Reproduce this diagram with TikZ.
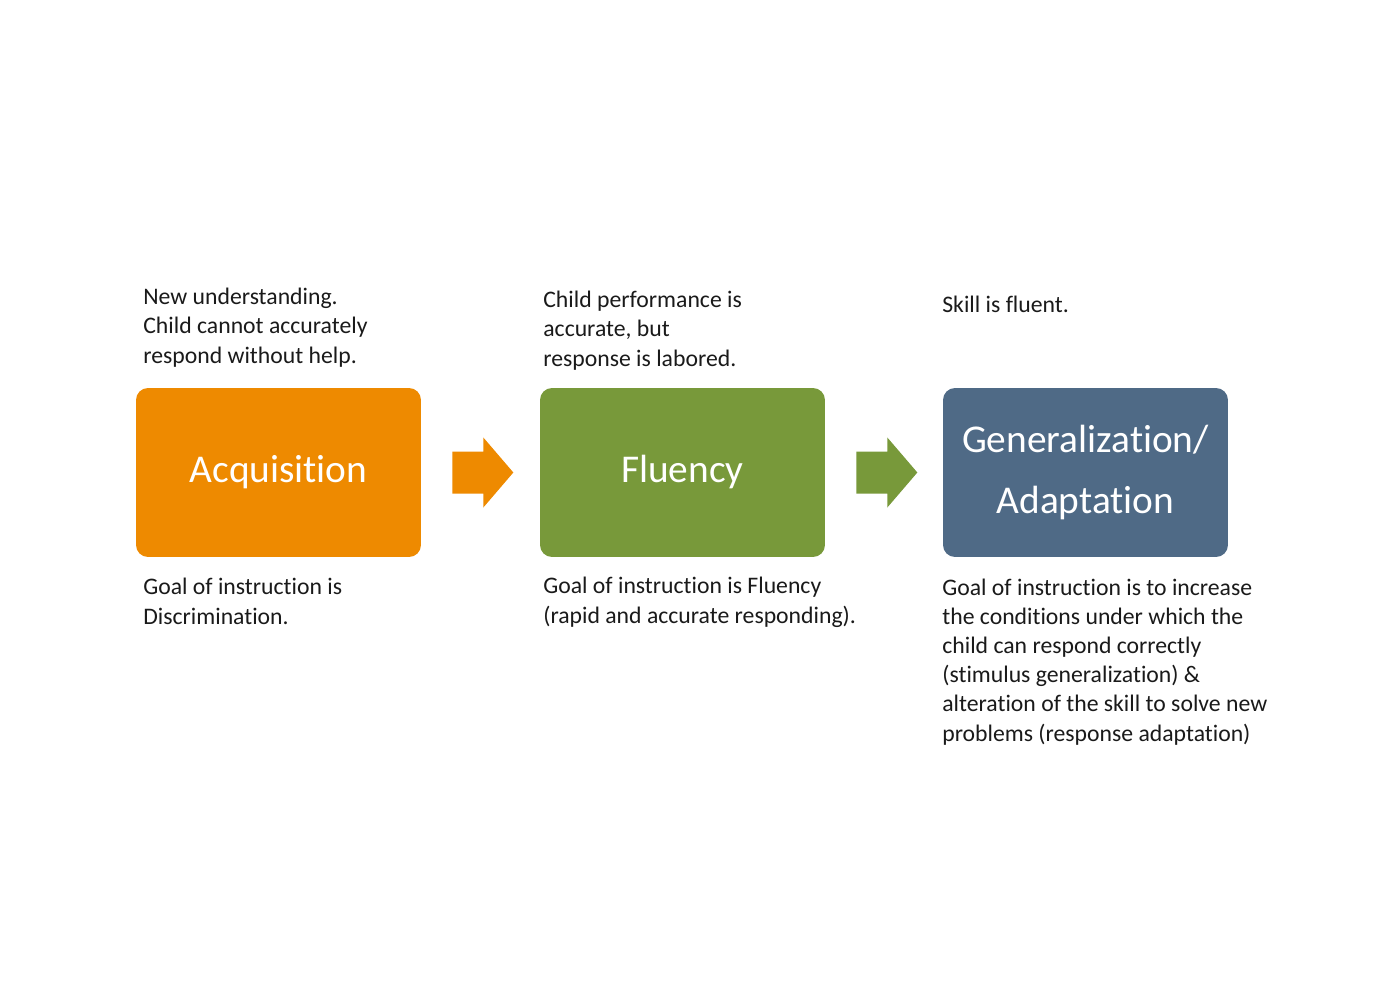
\documentclass[tikz,border=0pt]{standalone}
\usepackage{fontspec}
\setmainfont{Carlito}[Ligatures=NoCommon]
\usetikzlibrary{calc}
\definecolor{acqorange}{HTML}{EE8A00}
\definecolor{flugreen}{HTML}{78993A}
\definecolor{genblue}{HTML}{4F6A86}
\definecolor{notegray}{HTML}{1A1A1A}

\begin{document}
\begin{tikzpicture}[x=0.02cm,y=-0.02cm,
    stage/.style={rounded corners=0.24cm,minimum width=5.7cm,minimum height=3.38cm,
        inner sep=0pt,align=center,text=white,font=\fontsize{22.4}{34.6}\selectfont},
    note/.style={anchor=base west,align=left,inner sep=0pt,text=notegray,
        font=\fontsize{13.5}{16.6}\selectfont}]
    \fill[white] (0,0) rectangle (1400,1000);
    \useasboundingbox (0,0) rectangle (1400,1000);
    % the three stages
    \node[stage,fill=acqorange] (acq) at (278.5,472.5) {Acquisition};
    \node[stage,fill=flugreen] (flu) at (682.5,472.5) {Fluency};
    \node[stage,fill=genblue] (gen) at (1085.5,472.5) {Generalization/\\Adaptation};
    % block arrows
    \coordinate (ar1) at ($(acq.east)+(31,0)$);
    \coordinate (ar2) at ($(flu.east)+(31,0)$);
    \fill[acqorange] (ar1) ++(0,-21) -- ++(31,0) -- ++(0,-14) -- ++(30,35)
        -- ++(-30,35) -- ++(0,-14) -- ++(-31,0) -- cycle;
    \fill[flugreen] (ar2) ++(0,-21) -- ++(31,0) -- ++(0,-14) -- ++(30,35)
        -- ++(-30,35) -- ++(0,-14) -- ++(-31,0) -- cycle;
    % notes above (base = last line)
    \node[note] (acqtop) at (143,363) {New understanding.\\Child cannot accurately\\respond without help.};
    \node[note] (flutop) at (543,366) {Child performance is\\accurate, but\\response is labored.};
    \node[note] (gentop) at (942,313) {Skill is fluent.};
    % notes below
    \node[note] (acqbot) at (143,624) {Goal of instruction is\\Discrimination.};
    \node[note] (flubot) at (543,623) {Goal of instruction is Fluency\\(rapid and accurate responding).};
    \node[note] (genbot) at (942,741) {Goal of instruction is to increase\\the conditions under which the\\child can respond correctly\\(stimulus generalization) \&\\alteration of the skill to solve new\\problems (response adaptation)};
\end{tikzpicture}
\end{document}
